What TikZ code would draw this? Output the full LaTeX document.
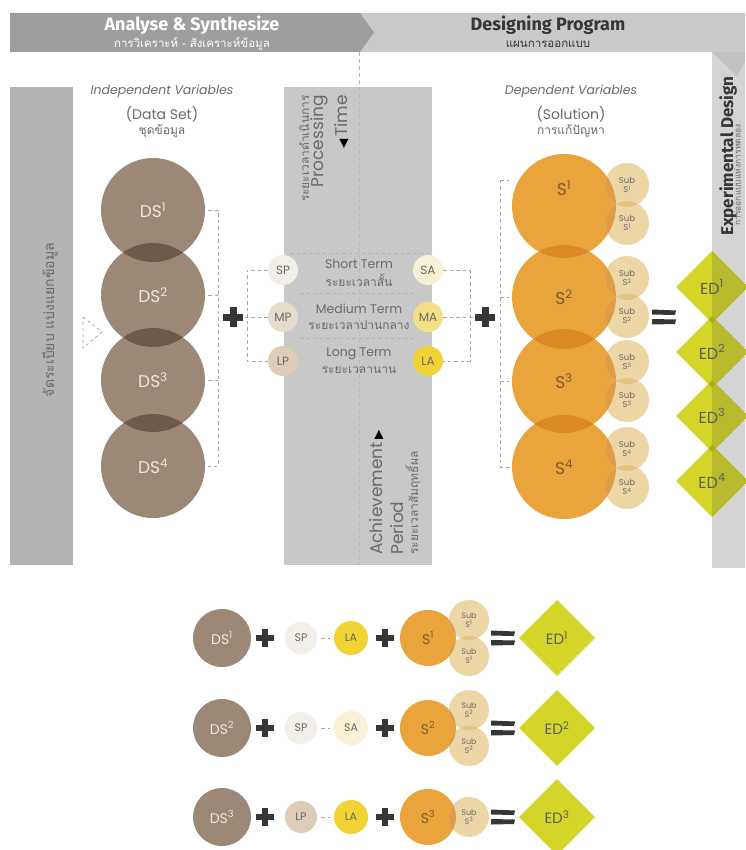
\documentclass[tikz,border=0pt]{standalone}
\usepackage{fontspec}
\setmainfont{Poppins}
\newfontfamily\thaifont[Script=Thai]{Loma}
\newfontfamily\headfont{Fira Sans}
\newfontfamily\symfont{DejaVu Sans}
\newcommand\fsz[1]{\fontsize{#1}{#1}\selectfont}
\definecolor{bandDark}{HTML}{9E9E9E}
\definecolor{bandLight}{HTML}{C9C9C9}
\definecolor{leftGray}{HTML}{B3B3B3}
\definecolor{midGray}{HTML}{C8C8C8}
\definecolor{colGray}{HTML}{D3D3D3}
\definecolor{colV}{HTML}{C2C2C2}
\definecolor{dsFill}{HTML}{9B8877}
\definecolor{dsLens}{HTML}{6E5A4A}
\definecolor{dsText}{HTML}{EDE6DE}
\definecolor{sFill}{HTML}{EAA43C}
\definecolor{sLens}{HTML}{DA8A26}
\definecolor{sText}{HTML}{7A5C34}
\definecolor{subFill}{HTML}{EDD6A6}
\definecolor{subLens}{HTML}{E2C383}
\definecolor{subSLens}{HTML}{DD9C45}
\definecolor{edFill}{HTML}{D3D628}
\definecolor{edDark}{HTML}{B6BA2C}
\definecolor{edLens}{HTML}{A4A91E}
\definecolor{dashGray}{HTML}{A6A6A6}
\definecolor{ink}{HTML}{363636}
\definecolor{softInk}{HTML}{6A6A6A}
\definecolor{spFill}{HTML}{F2EEE8}
\definecolor{mpFill}{HTML}{E6DCCD}
\definecolor{lpFill}{HTML}{DDCDB8}
\definecolor{saFill}{HTML}{F8F1D5}
\definecolor{maFill}{HTML}{F4DF86}
\definecolor{laFill}{HTML}{F2D335}
\usetikzlibrary{calc}
\begin{document}
\begin{tikzpicture}[x=1pt,y=-1pt,
  dashline/.style={draw=dashGray, line width=0.9pt, dash pattern=on 3.5pt off 3pt},
  txt/.style={inner sep=0pt, text=softInk},
  dsc/.style={circle, fill=dsFill, minimum size=104pt, inner sep=0pt, text=dsText, font=\fsz{17}},
  sc/.style={circle, fill=sFill, minimum size=104pt, inner sep=0pt, text=sText, font=\fsz{17}},
  subc/.style={circle, fill=subFill, minimum size=44pt, inner sep=0pt, text=softInk, font=\fontsize{8.5}{9.5}\selectfont, align=center},
  smallc/.style={circle, fill=#1, minimum size=30pt, inner sep=0pt, text=softInk, font=\fsz{12}},
  edlabel/.style={inner sep=0pt, text=ink!80, font=\fsz{16}},
  plussign/.pic={\fill[ink] (-10,-3.5) rectangle (10,3.5); \fill[ink] (-3.5,-10) rectangle (3.5,10);},
  smallplus/.pic={\fill[ink] (-9,-3.2) rectangle (9,3.2); \fill[ink] (-3.2,-9) rectangle (3.2,9);},
  equalsign/.pic={\fill[ink] (-12,-7.5) -- (12,-6.5) -- (11,-2) -- (-12,-2.5) -- cycle; \fill[ink] (-12,2) -- (12,2.5) -- (11,7) -- (-12,7.5) -- cycle;},
]
\useasboundingbox (0,0) rectangle (745,850);
\fill[white] (0,0) rectangle (745,850);

% ---------- banner ----------
\fill[bandLight] (300,13) rectangle (745,52);
\fill[bandDark] (10,13) -- (360,13) -- (374,32.5) -- (360,52) -- (10,52) -- cycle;
\node[inner sep=0pt, text=white, font=\headfont\bfseries\fsz{18}] (t1) at (192,25) {Analyse \& Synthesize};
\node[inner sep=0pt, text=white, font=\thaifont\fsz{11.5}] (t1th) at (192,44) {การวิเคราะห์ - สังเคราะห์ข้อมูล};
\node[inner sep=0pt, text=ink, font=\headfont\bfseries\fsz{18}] (t2) at (548,25) {Designing Program};
\node[inner sep=0pt, text=ink, font=\thaifont\fsz{11.5}] (t2th) at (548,44) {แผนการออกแบบ};

% ---------- panels ----------
\fill[leftGray] (10,87) rectangle (73,565);
\fill[midGray] (284,87) rectangle (432,565);
\fill[colGray] (712,52) rectangle (745,568);
\fill[colV] (712,52) -- (745,52) -- (745,62) -- (737,76) -- cycle;
\draw[draw=dashGray!80, line width=0.8pt, dash pattern=on 4pt off 3pt] (359,52) -- (359,565);

% left column text and dashed triangle
\node[inner sep=0pt, rotate=90, text=softInk, font=\thaifont\fsz{14}] (lefttxt) at (50,320) {จัดระเบียบ แบ่งแยกข้อมูล};
\draw[dashGray, line width=0.8pt, dash pattern=on 3pt off 3pt] (83,317) -- (102,332) -- (83,348) -- cycle;

% ---------- headings ----------
\node[txt, font=\itshape\fsz{12.5}] (iv) at (162,91) {Independent Variables};
\node[txt, font=\fsz{14}] (ivs) at (162,114) {(Data Set)};
\node[txt, font=\thaifont\fsz{12}] (ivth) at (162,131) {ชุดข้อมูล};
\node[txt, font=\itshape\fsz{12.5}] (dv) at (571,91) {Dependent Variables};
\node[txt, font=\fsz{14}] (dvs) at (571,114) {(Solution)};
\node[txt, font=\thaifont\fsz{12}] (dvth) at (571,131) {การแก้ปัญหา};

% ---------- middle panel texts ----------
\node[txt, rotate=90, anchor=base east, font=\thaifont\fsz{12}] (pth) at (309,95) {ระยะเวลาดำเนินการ};
\node[txt, rotate=90, anchor=base east, font=\fsz{17}] (proc) at (323,95) {Processing};
\node[txt, rotate=90, anchor=base east, font=\fsz{17}] (ptime) at (347,95) {{\symfont\fsz{12}\textcolor{black}{◀}}\,Time};
\node[txt, rotate=90, anchor=base west, font=\fsz{17}] (ach) at (382,555) {Achievement\,{\symfont\fsz{12}\textcolor{black}{▶}}};
\node[txt, rotate=90, anchor=base west, font=\fsz{17}] (per) at (403,555) {Period};
\node[txt, rotate=90, anchor=base west, font=\thaifont\fsz{12}] (achth) at (418,555) {ระยะเวลาสัมฤทธิ์ผล};

\draw[dashline, draw=dashGray!85] (290,253) -- (428,253);
\draw[dashline, draw=dashGray!85] (300,293) -- (414,293);
\draw[dashline, draw=dashGray!85] (300,338) -- (414,338);

\node[txt, font=\fsz{12.5}] (st) at (359,264) {Short Term};
\node[txt, font=\thaifont\fsz{12}] (stth) at (359,280) {ระยะเวลาสั้น};
\node[txt, font=\fsz{12.5}] (mt) at (359,309) {Medium Term};
\node[txt, font=\thaifont\fsz{12}] (mtth) at (359,325) {ระยะเวลาปานกลาง};
\node[txt, font=\fsz{12.5}] (lt) at (359,354) {Long Term};
\node[txt, font=\thaifont\fsz{12}] (ltth) at (359,370) {ระยะเวลานาน};

\node[smallc=spFill] (sp) at (283,270) {SP};
\node[smallc=mpFill] (mp) at (283,317) {MP};
\node[smallc=lpFill] (lp) at (283,361) {LP};
\node[smallc=saFill] (sa) at (428,270) {SA};
\node[smallc=maFill] (ma) at (428,317) {MA};
\node[smallc=laFill] (la) at (428,361) {LA};

% ---------- DS circles ----------
\node[dsc] (ds1) at (153,210) {DS\textsuperscript{1}};
\node[dsc] (ds2) at (153,295) {DS\textsuperscript{2}};
\begin{scope}\clip (ds1.center) circle[radius=52]; \fill[dsLens] (ds2.center) circle[radius=52];\end{scope}
\node[dsc] (ds3) at (153,380) {DS\textsuperscript{3}};
\begin{scope}\clip (ds2.center) circle[radius=52]; \fill[dsLens] (ds3.center) circle[radius=52];\end{scope}
\node[dsc] (ds4) at (153,466) {DS\textsuperscript{4}};
\begin{scope}\clip (ds3.center) circle[radius=52]; \fill[dsLens] (ds4.center) circle[radius=52];\end{scope}

% brackets left
\coordinate (bl1) at (218,210); \coordinate (bl2) at (218,295);
\coordinate (bl3) at (218,380); \coordinate (bl4) at (218,466);
\draw[dashline] ([xshift=3pt]ds1.east) -- (bl1) -- (bl4) -- ([xshift=3pt]ds4.east);
\draw[dashline] ([xshift=3pt]ds2.east) -- (bl2);
\draw[dashline] ([xshift=3pt]ds3.east) -- (bl3);
\coordinate (plusL) at (233,317);
\pic at (plusL) {plussign};
\coordinate (bm1) at (247,270); \coordinate (bm3) at (247,361);
\draw[dashline] (sp.west) -- (bm1) -- (bm3) -- (lp.west);
\draw[dashline] (mp.west) -- ([xshift=12pt]plusL);
\coordinate (br1) at (470,270); \coordinate (br3) at (470,361);
\draw[dashline] (sa.east) -- (br1) -- (br3) -- (la.east);
\coordinate (plusR) at (485,317);
\draw[dashline] (ma.east) -- ([xshift=-12pt]plusR);
\pic at (plusR) {plussign};

% ---------- S circles ----------
\node[sc] (s1) at (564,206) {};
\node[sc] (s2) at (564,297) {S\textsuperscript{2}};
\begin{scope}\clip (s1.center) circle[radius=52]; \fill[sLens] (s2.center) circle[radius=52];\end{scope}
\node[sc] (s3) at (564,381) {S\textsuperscript{3}};
\begin{scope}\clip (s2.center) circle[radius=52]; \fill[sLens] (s3.center) circle[radius=52];\end{scope}
\node[sc] (s4) at (564,467) {S\textsuperscript{4}};
\begin{scope}\clip (s3.center) circle[radius=52]; \fill[sLens] (s4.center) circle[radius=52];\end{scope}
\node[inner sep=0pt, text=sText, font=\fsz{17}] (s1lab) at (564,188) {S\textsuperscript{1}};

\coordinate (bs1) at (500,180); \coordinate (bs2) at (500,297);
\coordinate (bs3) at (500,381); \coordinate (bs4) at (500,467);
\draw[dashline] (bs1) -- ([xshift=-3pt]s1.west |- bs1);
\draw[dashline] (bs1) -- (bs4) -- ([xshift=-3pt]s4.west);
\draw[dashline] (bs2) -- ([xshift=-3pt]s2.west);
\draw[dashline] (bs3) -- ([xshift=-3pt]s3.west);

% sub circles
\foreach \n/\ya/\yb in {1/185/223, 2/278/316, 3/362/400, 4/449/487} {
  \node[subc] (sub\n a) at (627,\ya) {Sub\\S\textsuperscript{\n}};
  \node[subc] (sub\n b) at (627,\yb) {Sub\\S\textsuperscript{\n}};
  \begin{scope}\clip (sub\n a.center) circle[radius=22]; \fill[subLens] (sub\n b.center) circle[radius=22];\end{scope}
  \begin{scope}\clip (sub\n a.center) circle[radius=22]; \fill[subSLens] (s\n.center) circle[radius=52];\end{scope}
  \begin{scope}\clip (sub\n b.center) circle[radius=22]; \fill[subSLens] (s\n.center) circle[radius=52];\end{scope}
}
\pic at (664,317) {equalsign};

% ---------- ED diamonds ----------
\foreach \y/\n in {287/1, 352/2, 416/3, 481/4} {
  \fill[edFill] (712,\y-36) -- (748,\y) -- (712,\y+36) -- (676,\y) -- cycle;
  \fill[edDark] (712,\y-36) -- (748,\y) -- (712,\y+36) -- cycle;
}
\foreach \y in {319.5, 384, 448.5} {
  \fill[edLens] (712,\y-3.5) -- (715.5,\y) -- (712,\y+3.5) -- (708.5,\y) -- cycle;
}
\foreach \y/\n in {287/1, 352/2, 416/3, 481/4} {
  \node[edlabel] (ed\n) at (712,\y) {ED\textsuperscript{\n}};
}
\node[inner sep=0pt, rotate=90, anchor=base west, text=ink, font=\headfont\bfseries\fsz{17}] (expd) at (733,236) {Experimental Design};
\node[inner sep=0pt, rotate=90, anchor=base west, text=softInk, font=\thaifont\fsz{8.5}] (expth) at (740.5,226) {การออกแบบแห่งการทดลอง};

% ---------- bottom equations ----------
\foreach \r/\y/\p/\pc/\a/\ac/\k in {1/638/SP/spFill/LA/laFill/1, 2/728/SP/spFill/SA/saFill/2, 3/817/LP/lpFill/LA/laFill/3} {
  \node[dsc, minimum size=58pt, font=\fsz{14}] (bds\r) at (222,\y) {DS\textsuperscript{\k}};
  \pic at (265,\y) {smallplus};
  \node[smallc=\pc, minimum size=32pt, font=\fsz{11}] (bp\r) at (301,\y) {\p};
  \node[smallc=\ac, minimum size=34pt, font=\fsz{11}] (ba\r) at (351,\y) {\a};
  \draw[dashline, shorten <=4pt, shorten >=4pt] (bp\r) -- (ba\r);
  \pic at (385,\y) {smallplus};
  \node[sc, minimum size=56pt, font=\fsz{14}] (bs\r) at (428,\y) {S\textsuperscript{\k}};
  \pic at (503,\y) {equalsign};
  \fill[edFill] (557,\y-38) -- (595,\y) -- (557,\y+38) -- (519,\y) -- cycle;
  \node[edlabel, font=\fsz{15}] (bed\r) at (557,\y) {ED\textsuperscript{\k}};
}
\foreach \r/\y in {1/638, 2/728} {
  \node[subc, minimum size=40pt, font=\fontsize{8}{9}\selectfont] (bsub\r a) at (469,\y-18) {Sub\\S\textsuperscript{\r}};
  \node[subc, minimum size=40pt, font=\fontsize{8}{9}\selectfont] (bsub\r b) at (469,\y+18) {Sub\\S\textsuperscript{\r}};
  \begin{scope}\clip (bsub\r a.center) circle[radius=20]; \fill[subLens] (bsub\r b.center) circle[radius=20];\end{scope}
  \begin{scope}\clip (bsub\r a.center) circle[radius=20]; \fill[subSLens] (bs\r.center) circle[radius=28];\end{scope}
  \begin{scope}\clip (bsub\r b.center) circle[radius=20]; \fill[subSLens] (bs\r.center) circle[radius=28];\end{scope}
}
\node[subc, minimum size=40pt, font=\fontsize{8}{9}\selectfont] (bsub3) at (469,817) {Sub\\S\textsuperscript{3}};
\begin{scope}\clip (bsub3.center) circle[radius=20]; \fill[subSLens] (bs3.center) circle[radius=28];\end{scope}
\end{tikzpicture}
\end{document}
